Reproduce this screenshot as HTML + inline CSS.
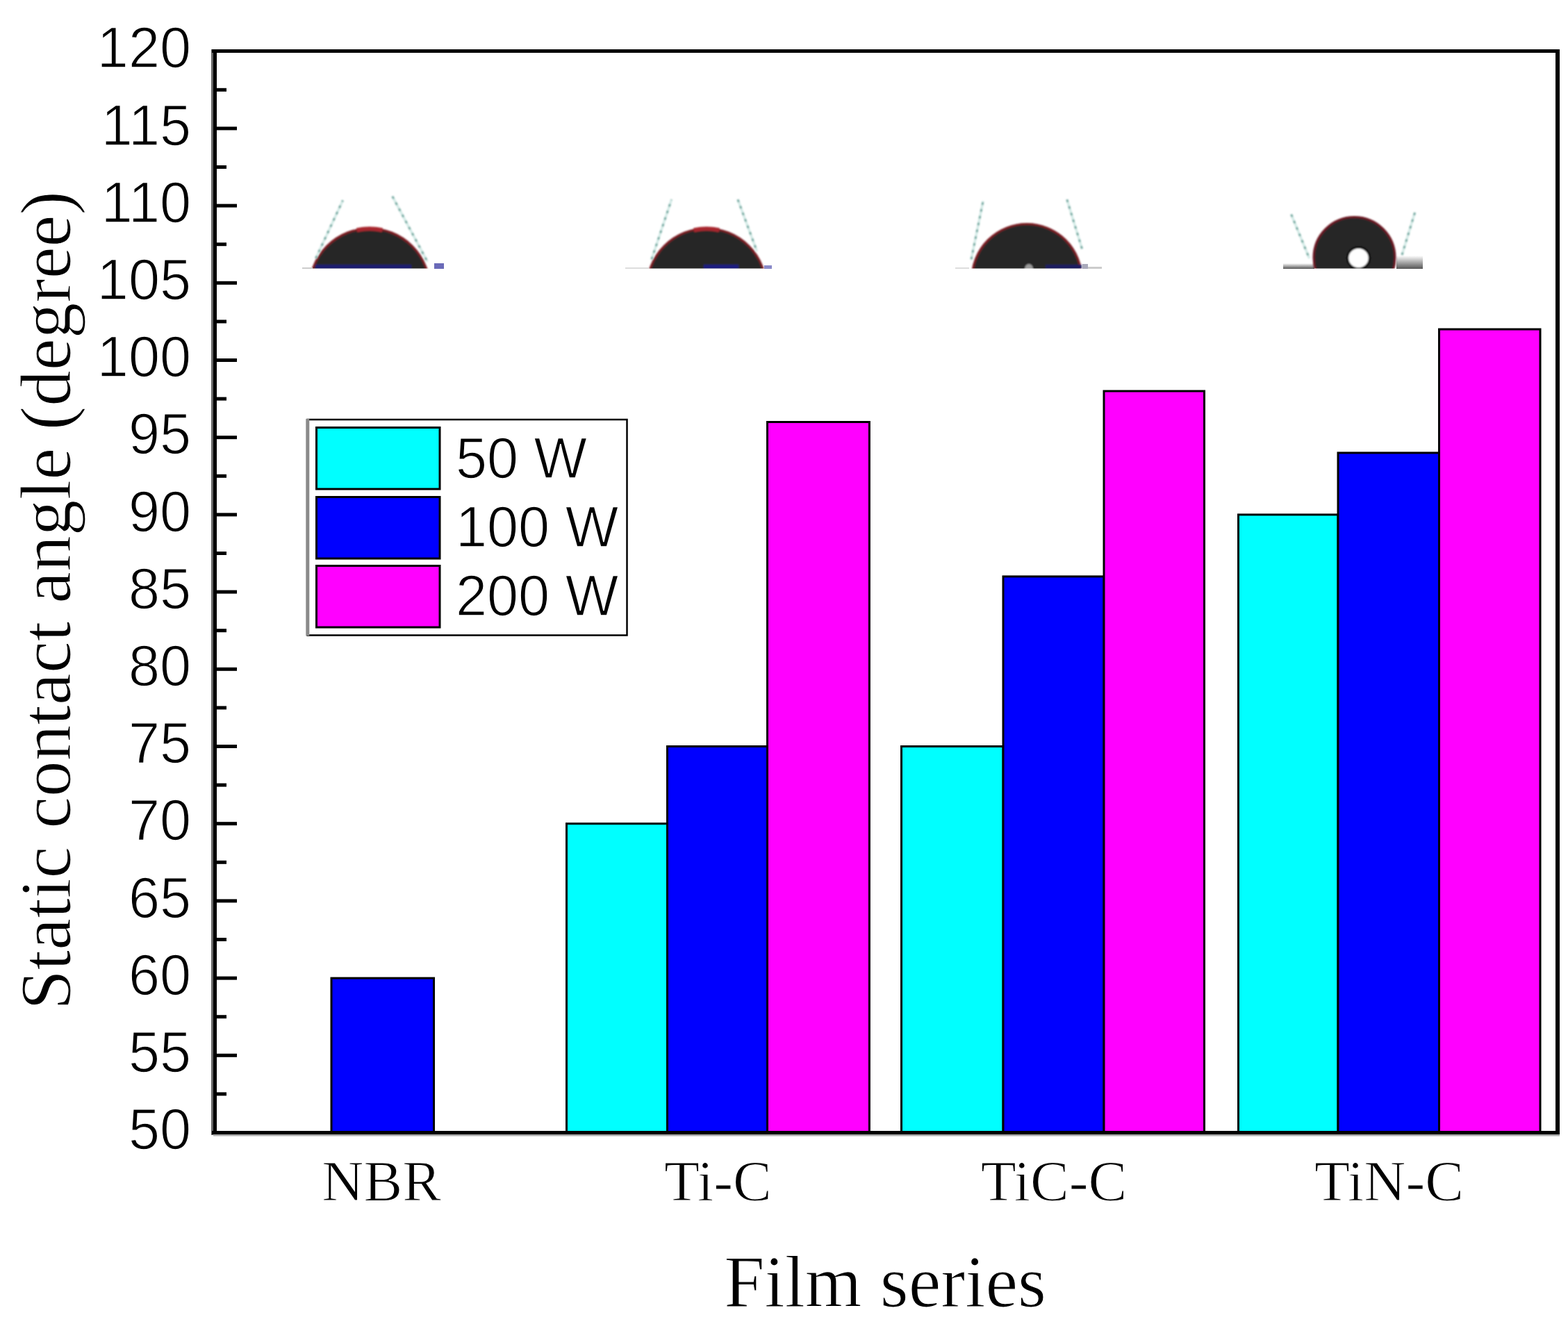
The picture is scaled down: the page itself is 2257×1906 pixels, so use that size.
<!DOCTYPE html>
<html><head><meta charset="utf-8"><title>Static contact angle</title>
<style>
html,body{margin:0;padding:0;background:#fff;}
body{width:2257px;height:1906px;overflow:hidden;}
svg{display:block;}
.sans{font-family:"Liberation Sans",Arial,sans-serif;stroke:#fff;stroke-width:1.4px;paint-order:normal;}
.serif{font-family:"Liberation Serif","Times New Roman",serif;stroke:#fff;stroke-width:1.2px;paint-order:normal;}
</style></head><body>
<svg width="2257" height="1906" viewBox="0 0 2257 1906">
<rect width="2257" height="1906" fill="#fff"/>
<defs><filter id="soft" x="-10%" y="-10%" width="120%" height="120%"><feGaussianBlur stdDeviation="0.8"/></filter></defs>

<clipPath id="clip532"><rect x="438.8" y="322.4" width="186.4" height="64.20000000000005"/></clipPath>
<g clip-path="url(#clip532)">
<g filter="url(#soft)">
<circle cx="532" cy="415.59999999999997" r="86.7" fill="#272727" stroke="#7a1a22" stroke-width="3"/>
<path d="M513.7,331.3 A88.2,88.2 0 0 1 550.3,331.3" fill="none" stroke="#a8262e" stroke-width="6"/>
<rect x="454" y="381" width="138" height="6" fill="#1a1a6e"/>
</g></g>
<g filter="url(#soft)">
<line x1="454.5" y1="372" x2="493.5" y2="288.4" stroke="#d4ebe7" stroke-width="3.5"/>
<line x1="454.5" y1="372" x2="493.5" y2="288.4" stroke="#7aaca4" stroke-width="3" stroke-dasharray="4 6"/>
<line x1="564.8" y1="282.6" x2="615.3" y2="376.8" stroke="#d4ebe7" stroke-width="3.5"/>
<line x1="564.8" y1="282.6" x2="615.3" y2="376.8" stroke="#7aaca4" stroke-width="3" stroke-dasharray="4 6"/>
</g>
<rect x="625" y="379" width="14" height="8" fill="#6a6ab8"/>
<rect x="435" y="385" width="15" height="2" fill="#ccc"/>
<clipPath id="clip1017"><rect x="924.6" y="322.4" width="184.8" height="64.20000000000005"/></clipPath>
<g clip-path="url(#clip1017)">
<g filter="url(#soft)">
<circle cx="1017" cy="414.79999999999995" r="85.9" fill="#272727" stroke="#7a1a22" stroke-width="3"/>
<path d="M998.8,331.3 A87.4,87.4 0 0 1 1035.2,331.3" fill="none" stroke="#a8262e" stroke-width="6"/>
<rect x="1013" y="381" width="50" height="6" fill="#1a1a7e"/>
</g></g>
<g filter="url(#soft)">
<line x1="937.9" y1="373.4" x2="966.6" y2="287.2" stroke="#d4ebe7" stroke-width="3.5"/>
<line x1="937.9" y1="373.4" x2="966.6" y2="287.2" stroke="#7aaca4" stroke-width="3" stroke-dasharray="4 6"/>
<line x1="1062" y1="287.2" x2="1089.6" y2="361.9" stroke="#d4ebe7" stroke-width="3.5"/>
<line x1="1062" y1="287.2" x2="1089.6" y2="361.9" stroke="#7aaca4" stroke-width="3" stroke-dasharray="4 6"/>
</g>
<rect x="1100" y="382" width="11" height="5" fill="#8a8ac8"/>
<rect x="900" y="385" width="34" height="2" fill="#ddd"/>
<clipPath id="clip1478"><rect x="1392.6" y="316" width="170.8" height="70.60000000000002"/></clipPath>
<g clip-path="url(#clip1478)">
<g filter="url(#soft)">
<circle cx="1478" cy="401.4" r="78.9" fill="#272727" stroke="#7a1a22" stroke-width="3"/>
<rect x="1505" y="381" width="52" height="6" fill="#1a1a5e"/><ellipse cx="1481" cy="387" rx="6" ry="7" fill="#999"/>
</g></g>
<g filter="url(#soft)">
<line x1="1398" y1="373.4" x2="1415.1" y2="289.5" stroke="#d4ebe7" stroke-width="3.5"/>
<line x1="1398" y1="373.4" x2="1415.1" y2="289.5" stroke="#7aaca4" stroke-width="3" stroke-dasharray="4 6"/>
<line x1="1535.8" y1="287.2" x2="1557.6" y2="358.5" stroke="#d4ebe7" stroke-width="3.5"/>
<line x1="1535.8" y1="287.2" x2="1557.6" y2="358.5" stroke="#7aaca4" stroke-width="3" stroke-dasharray="4 6"/>
</g>
<rect x="1558" y="380" width="8" height="7" fill="#aab"/>
<rect x="1566" y="384" width="20" height="3" fill="#ccc"/>
<rect x="1375" y="385" width="20" height="2" fill="#ddd"/>
<defs><linearGradient id="gb" x1="0" y1="0" x2="0" y2="1"><stop offset="0" stop-color="#fff"/><stop offset="1" stop-color="#555"/></linearGradient></defs>
<rect x="1847" y="379" width="45" height="8" fill="url(#gb)"/>
<rect x="2010" y="368" width="38" height="19" fill="url(#gb)"/>
<clipPath id="clip1949"><rect x="1884.5" y="306" width="130" height="80.60000000000002"/></clipPath>
<g clip-path="url(#clip1949)">
<g filter="url(#soft)">
<circle cx="1949.5" cy="371" r="58.5" fill="#272727" stroke="#6a1820" stroke-width="3"/>
<ellipse cx="1955.5" cy="371.5" rx="16" ry="15.5" fill="#fff" stroke="#111" stroke-width="3.5"/>
</g></g>
<g filter="url(#soft)">
<line x1="1858.6" y1="308.6" x2="1884.7" y2="372" stroke="#d4ebe7" stroke-width="3.5"/>
<line x1="1858.6" y1="308.6" x2="1884.7" y2="372" stroke="#7aaca4" stroke-width="3" stroke-dasharray="4 6"/>
<line x1="2036.6" y1="306" x2="2018" y2="367" stroke="#d4ebe7" stroke-width="3.5"/>
<line x1="2036.6" y1="306" x2="2018" y2="367" stroke="#7aaca4" stroke-width="3" stroke-dasharray="4 6"/>
</g>
<rect x="477" y="1408.1" width="147.5" height="222.4" fill="#0000ff" stroke="#000" stroke-width="3"/>
<rect x="815.5" y="1185.7" width="145.0" height="444.8" fill="#00ffff" stroke="#000" stroke-width="3"/>
<rect x="960.5" y="1074.5" width="144.0" height="556.0" fill="#0000ff" stroke="#000" stroke-width="3"/>
<rect x="1104.5" y="607.5" width="146.9" height="1023.0" fill="#ff00ff" stroke="#000" stroke-width="3"/>
<rect x="1297.5" y="1074.5" width="146.5" height="556.0" fill="#00ffff" stroke="#000" stroke-width="3"/>
<rect x="1444" y="829.9" width="145.0" height="800.6" fill="#0000ff" stroke="#000" stroke-width="3"/>
<rect x="1589" y="563.0" width="144.5" height="1067.5" fill="#ff00ff" stroke="#000" stroke-width="3"/>
<rect x="1782.5" y="740.9" width="143.5" height="889.6" fill="#00ffff" stroke="#000" stroke-width="3"/>
<rect x="1926" y="651.9" width="145.5" height="978.6" fill="#0000ff" stroke="#000" stroke-width="3"/>
<rect x="2071.5" y="474.0" width="145.5" height="1156.5" fill="#ff00ff" stroke="#000" stroke-width="3"/>
<g stroke="#000" fill="none">
<line x1="305.5" y1="71" x2="305.5" y2="1634" stroke="#666" stroke-width="3"/>
<line x1="309.5" y1="71" x2="309.5" y2="1634" stroke-width="5"/>
<line x1="305" y1="73.5" x2="2245" y2="73.5" stroke-width="5"/>
<line x1="2242" y1="71" x2="2242" y2="1634" stroke-width="6"/>
<line x1="305" y1="1630.5" x2="2245" y2="1630.5" stroke-width="5"/>
<line x1="307" y1="1634.2" x2="2245" y2="1634.2" stroke="#aaa" stroke-width="2.5"/>
<line x1="310" y1="1574.9" x2="326" y2="1574.9" stroke-width="5"/>
<line x1="310" y1="1519.3" x2="341" y2="1519.3" stroke-width="5"/>
<line x1="310" y1="1463.7" x2="326" y2="1463.7" stroke-width="5"/>
<line x1="310" y1="1408.1" x2="341" y2="1408.1" stroke-width="5"/>
<line x1="310" y1="1352.5" x2="326" y2="1352.5" stroke-width="5"/>
<line x1="310" y1="1296.9" x2="341" y2="1296.9" stroke-width="5"/>
<line x1="310" y1="1241.3" x2="326" y2="1241.3" stroke-width="5"/>
<line x1="310" y1="1185.7" x2="341" y2="1185.7" stroke-width="5"/>
<line x1="310" y1="1130.1" x2="326" y2="1130.1" stroke-width="5"/>
<line x1="310" y1="1074.5" x2="341" y2="1074.5" stroke-width="5"/>
<line x1="310" y1="1018.9" x2="326" y2="1018.9" stroke-width="5"/>
<line x1="310" y1="963.3" x2="341" y2="963.3" stroke-width="5"/>
<line x1="310" y1="907.7" x2="326" y2="907.7" stroke-width="5"/>
<line x1="310" y1="852.1" x2="341" y2="852.1" stroke-width="5"/>
<line x1="310" y1="796.5" x2="326" y2="796.5" stroke-width="5"/>
<line x1="310" y1="740.9" x2="341" y2="740.9" stroke-width="5"/>
<line x1="310" y1="685.3" x2="326" y2="685.3" stroke-width="5"/>
<line x1="310" y1="629.7" x2="341" y2="629.7" stroke-width="5"/>
<line x1="310" y1="574.1" x2="326" y2="574.1" stroke-width="5"/>
<line x1="310" y1="518.5" x2="341" y2="518.5" stroke-width="5"/>
<line x1="310" y1="462.9" x2="326" y2="462.9" stroke-width="5"/>
<line x1="310" y1="407.3" x2="341" y2="407.3" stroke-width="5"/>
<line x1="310" y1="351.7" x2="326" y2="351.7" stroke-width="5"/>
<line x1="310" y1="296.1" x2="341" y2="296.1" stroke-width="5"/>
<line x1="310" y1="240.5" x2="326" y2="240.5" stroke-width="5"/>
<line x1="310" y1="184.9" x2="341" y2="184.9" stroke-width="5"/>
<line x1="310" y1="129.3" x2="326" y2="129.3" stroke-width="5"/>
</g>
<g class="sans" font-size="81" fill="#000" text-anchor="end">
<text transform="translate(275,1654.1) scale(1,1.04)">50</text>
<text transform="translate(275,1542.9) scale(1,1.04)">55</text>
<text transform="translate(275,1431.7) scale(1,1.04)">60</text>
<text transform="translate(275,1320.5) scale(1,1.04)">65</text>
<text transform="translate(275,1209.3) scale(1,1.04)">70</text>
<text transform="translate(275,1098.1) scale(1,1.04)">75</text>
<text transform="translate(275,986.9) scale(1,1.04)">80</text>
<text transform="translate(275,875.7) scale(1,1.04)">85</text>
<text transform="translate(275,764.5) scale(1,1.04)">90</text>
<text transform="translate(275,653.3) scale(1,1.04)">95</text>
<text transform="translate(275,542.1) scale(1,1.04)">100</text>
<text transform="translate(275,430.9) scale(1,1.04)">105</text>
<text transform="translate(275,319.7) scale(1,1.04)">110</text>
<text transform="translate(275,208.5) scale(1,1.04)">115</text>
<text transform="translate(275,97.3) scale(1,1.04)">120</text>
</g>
<text class="serif" font-size="103.3" text-anchor="middle" transform="translate(101,864.5) rotate(-90)">Static contact angle (degree)</text>
<g class="serif" font-size="83.5" text-anchor="middle">
<text x="549" y="1727.5">NBR</text>
<text x="1033.4" y="1727.5">Ti-C</text>
<text x="1517" y="1727.5">TiC-C</text>
<text x="1999.5" y="1727.5">TiN-C</text>
</g>
<text class="serif" font-size="105" text-anchor="middle" x="1274" y="1880.6">Film series</text>
<rect x="442.5" y="604" width="460" height="310.5" fill="#fff" stroke="#000" stroke-width="2.5"/>
<rect x="440.3" y="603" width="5" height="312" fill="#8a8a8a"/>
<rect x="455.5" y="615.5" width="177.5" height="88.5" fill="#00ffff" stroke="#000" stroke-width="3"/>
<rect x="455.5" y="715.5" width="177.5" height="88.5" fill="#0000ff" stroke="#000" stroke-width="3"/>
<rect x="455.5" y="814.5" width="177.5" height="88.5" fill="#ff00ff" stroke="#000" stroke-width="3"/>
<g class="sans" font-size="81" fill="#000">
<text transform="translate(656,687.7) scale(1,1.04)">50 W</text>
<text transform="translate(656,787) scale(1,1.04)">100 W</text>
<text transform="translate(656,886.4) scale(1,1.04)">200 W</text>
</g>
</svg>
</body></html>
